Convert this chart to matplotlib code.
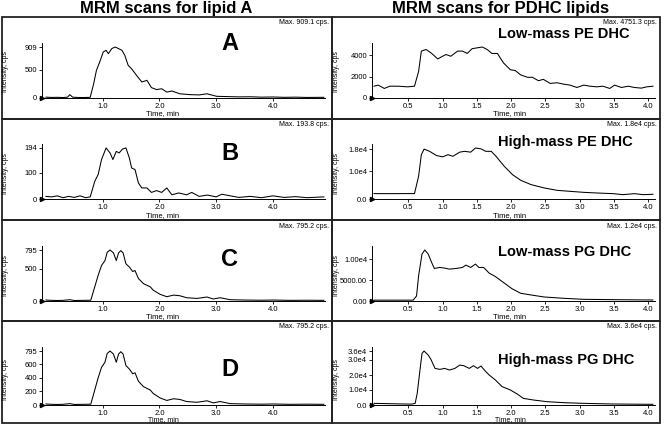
import matplotlib
matplotlib.use("Agg")
import matplotlib.pyplot as plt
from matplotlib.patches import Rectangle

plt.rcParams['font.family'] = ['Liberation Sans', 'DejaVu Sans']

# ---- data ----
# lipid A, panel A
tA = [0.0, 0.1, 0.2, 0.3, 0.38, 0.42, 0.47, 0.55, 0.65, 0.78, 0.84, 0.89, 0.95, 1.01, 1.06, 1.1,
      1.16, 1.22, 1.28, 1.34, 1.39, 1.45, 1.51, 1.6, 1.69, 1.78, 1.86, 1.95, 2.04, 2.13, 2.22,
      2.36, 2.54, 2.7, 2.84, 3.01, 3.2, 3.4, 3.6, 3.8, 4.0, 4.2, 4.4, 4.6, 4.9]
iA = [15, 10, 12, 8, 15, 60, 15, 10, 8, 12, 250, 493, 650, 820, 850, 790,
      880, 909, 880, 850, 760, 580, 520, 400, 285, 315, 185, 150, 165, 105, 125,
      75, 60, 55, 75, 30, 25, 20, 22, 15, 18, 12, 15, 10, 12]

# panel B
tB = [0.0, 0.1, 0.2, 0.3, 0.4, 0.5, 0.6, 0.7, 0.78, 0.86, 0.92, 0.98, 1.06, 1.13, 1.18, 1.24,
      1.29, 1.35, 1.41, 1.47, 1.51, 1.57, 1.63, 1.69, 1.78, 1.86, 1.95, 2.04, 2.13, 2.22, 2.34,
      2.48, 2.57, 2.7, 2.85, 3.0, 3.1, 3.25, 3.4, 3.6, 3.8, 4.0, 4.2, 4.4, 4.6, 4.9]
iB = [10, 8, 12, 5, 10, 6, 12, 5, 8, 67, 93, 150, 194, 175, 150, 181,
      175, 190, 194, 156, 118, 112, 61, 42, 42, 25, 32, 25, 42, 16, 23,
      16, 25, 10, 15, 8, 18, 12, 6, 10, 5, 12, 6, 9, 5, 8]

# panels C and D (same trace)
tC = [0.0, 0.1, 0.2, 0.3, 0.42, 0.5, 0.65, 0.79, 0.86, 0.92, 0.98, 1.04, 1.08, 1.13, 1.19, 1.24,
      1.28, 1.32, 1.36, 1.41, 1.47, 1.53, 1.57, 1.63, 1.72, 1.78, 1.84, 1.89, 2.01, 2.13, 2.25,
      2.36, 2.48, 2.66, 2.84, 2.95, 3.07, 3.25, 3.5, 3.8, 4.0, 4.3, 4.6, 4.9]
iC = [15, 10, 8, 10, 20, 8, 10, 12, 220, 400, 555, 630, 760, 795, 750, 630,
      750, 785, 750, 580, 530, 460, 475, 350, 270, 245, 220, 170, 105, 67, 92,
      82, 51, 40, 62, 31, 51, 20, 15, 12, 15, 10, 12, 10]

# low-mass PE DHC
tLPE = [0.0, 0.06, 0.15, 0.23, 0.35, 0.49, 0.59, 0.65, 0.69, 0.76, 0.83, 0.93, 1.0, 1.05, 1.12,
        1.22, 1.29, 1.36, 1.43, 1.51, 1.58, 1.65, 1.72, 1.8, 1.89, 1.99, 2.06, 2.14, 2.24, 2.31,
        2.4, 2.47, 2.57, 2.67, 2.76, 2.86, 2.96, 3.06, 3.15, 3.25, 3.34, 3.44, 3.51, 3.61, 3.71,
        3.8, 3.9, 3.98, 4.07]
iLPE = [1100, 1200, 890, 1100, 1100, 1040, 1100, 2470, 4370, 4520, 4210, 3640, 3890, 4050, 3890,
        4370, 4370, 4150, 4590, 4680, 4751, 4520, 4150, 4150, 3260, 2630, 2560, 2150, 1930, 1930,
        1610, 1740, 1360, 1420, 1300, 1200, 980, 1200, 1100, 1040, 1100, 890, 1200, 980, 1100,
        980, 920, 1040, 1100]

# high-mass PE DHC
tHPE = [0.0, 0.2, 0.4, 0.59, 0.65, 0.69, 0.73, 0.81, 0.91, 1.0, 1.08, 1.15, 1.25, 1.32, 1.41,
        1.48, 1.56, 1.63, 1.71, 1.78, 1.9, 2.02, 2.14, 2.29, 2.48, 2.67, 2.86, 3.06, 3.25, 3.49,
        3.63, 3.8, 3.93, 4.07]
iHPE = [1950, 1930, 1950, 1950, 8200, 16000, 18000, 17200, 15700, 15200, 16000, 15400, 16900, 17200, 16900,
        18400, 18100, 17200, 17200, 15400, 11800, 8800, 6750, 5200, 4000, 3130, 2770, 2400, 2170, 1930,
        1570, 1930, 1570, 1700]

# low-mass PG DHC
tLPG = [0.0, 0.2, 0.4, 0.57, 0.62, 0.65, 0.7, 0.74, 0.79, 0.84, 0.88, 0.96, 1.03, 1.1, 1.2,
        1.29, 1.34, 1.41, 1.48, 1.53, 1.6, 1.68, 1.77, 1.89, 2.01, 2.14, 2.29, 2.48, 2.77, 3.06,
        3.49, 4.07]
iLPG = [200, 200, 200, 200, 1200, 6000, 11200, 12160, 11200, 9200, 7760, 8000, 7840, 7600, 7760,
        8000, 8560, 8000, 8800, 8000, 8000, 6640, 5840, 4400, 2960, 1840, 1440, 960, 640, 400,
        320, 240]

# high-mass PG DHC
tHPG = [0.0, 0.2, 0.4, 0.55, 0.6, 0.63, 0.67, 0.7, 0.73, 0.79, 0.83, 0.89, 0.96, 1.03, 1.1,
        1.18, 1.25, 1.31, 1.39, 1.45, 1.51, 1.56, 1.61, 1.68, 1.77, 1.87, 1.99, 2.09, 2.18, 2.33,
        2.53, 2.77, 3.06, 3.49, 4.07]
iHPG = [1100, 900, 700, 600, 1100, 7800, 23300, 34400, 36000, 33300, 30400, 24400, 23750, 24400, 23300,
        24400, 26600, 26200, 24400, 26200, 24400, 26000, 23300, 20000, 16700, 12200, 10000, 7300, 4400, 3300,
        2200, 1550, 1100, 660, 450]

left_titles = ["A", "B", "C", "D"]
right_titles = ["Low-mass PE DHC", "High-mass PE DHC", "Low-mass PG DHC", "High-mass PG DHC"]
left_max = ["Max. 909.1 cps.", "Max. 193.8 cps.", "Max. 795.2 cps.", "Max. 795.2 cps."]
right_max = ["Max. 4751.3 cps.", "Max. 1.8e4 cps.", "Max. 1.2e4 cps.", "Max. 3.6e4 cps."]
left_data = [(tA, iA), (tB, iB), (tC, iC), (tC, iC)]
right_data = [(tLPE, iLPE), (tHPE, iHPE), (tLPG, iLPG), (tHPG, iHPG)]
left_yticks = [[0, 500, 909], [0, 100, 194], [0, 500, 795], [0, 200, 400, 600, 795]]
left_ylabels = [["0", "500", "909"], ["0", "100", "194"], ["0", "500", "795"],
                ["0", "200", "400", "600", "795"]]
right_yticks = [[0, 2000, 4000], [0, 10000, 18000], [0, 5000, 10000], [0, 10000, 20000, 30000, 36000]]
right_ylabels = [["0", "2000", "4000"], ["0.0", "1.0e4", "1.8e4"], ["0.00", "5000.00", "1.00e4"],
                 ["0.0", "1.0e4", "2.0e4", "3.0e4", "3.6e4"]]
left_ymax = [909.1, 193.8, 795.2, 795.2]
right_ymax = [4751.3, 18400, 12160, 36000]

W, H = 664, 426
fig = plt.figure(figsize=(W / 100, H / 100), dpi=100)


def fx(px):
    return px / W


def fy(py):
    return 1 - py / H


row_top = [17, 119, 220, 321]
row_bot = [119, 220, 321, 423]
axis_base = [98, 199, 301, 405]
time_y = [114, 216, 317, 420]
letter_y = [44, 153, 260, 370]
label_y = [34, 142, 252, 360]

fig.text(fx(166), fy(9), "MRM scans for lipid A", ha="center", va="center",
         fontsize=12, fontweight="bold")
fig.text(fx(501), fy(9), "MRM scans for PDHC lipids", ha="center", va="center",
         fontsize=12, fontweight="bold")

cols = [(2, 332, 42, 325, (-0.07, 4.92), [1, 2, 3, 4], ["1.0", "2.0", "3.0", "4.0"], 163, 6),
        (332, 660, 372, 655, (-0.03, 4.1), [0.5, 1, 1.5, 2, 2.5, 3, 3.5, 4],
         ["0.5", "1.0", "1.5", "2.0", "2.5", "3.0", "3.5", "4.0"], 510, 336)]

for c, (bx0, bx1, ax0, ax1, xl, xt, xtl, tx, ix) in enumerate(cols):
    for r in range(4):
        # panel frame
        fig.add_artist(Rectangle((fx(bx0), fy(row_bot[r])), fx(bx1 - bx0), (row_bot[r] - row_top[r]) / H,
                                 transform=fig.transFigure, fill=False, lw=1.3, ec="#222222"))
        hgt = 55 if r < 3 else 58
        ax = fig.add_axes([fx(ax0), fy(axis_base[r]), fx(ax1 - ax0), hgt / H])
        if c == 0:
            t, v = left_data[r]
            ym = left_ymax[r]
            yt, ytl = left_yticks[r], left_ylabels[r]
        else:
            t, v = right_data[r]
            ym = right_ymax[r]
            yt, ytl = right_yticks[r], right_ylabels[r]
        ax.plot(t, v, color="black", lw=0.75)
        ax.set_xlim(*xl)
        ax.set_ylim(0, ym * hgt / (51 if r < 3 else 54))
        ax.set_xticks(xt)
        ax.set_xticklabels(xtl)
        ax.set_yticks(yt)
        ax.set_yticklabels(ytl)
        ax.tick_params(labelsize=5.5, length=2, width=0.6, pad=1.5)
        ax.spines["top"].set_visible(False)
        ax.spines["right"].set_visible(False)
        for s in ["left", "bottom"]:
            ax.spines[s].set_linewidth(0.7)
        ax.patch.set_alpha(0)
        ax.plot([0], [0], marker=">", ms=3, color="black", transform=ax.transAxes, clip_on=False)

        fig.text(fx(ix), fy(axis_base[r] - 26), "Intensity, cps", rotation=90,
                 ha="center", va="center", fontsize=5)
        fig.text(fx(tx), fy(time_y[r]), "Time, min", ha="center", va="center",
                 fontsize=5.5 if r < 3 else 5)
        if c == 0:
            fig.text(fx(329), fy(row_top[r] + 6), left_max[r], ha="right", va="center", fontsize=5)
            fig.text(fx(230), fy(letter_y[r]), left_titles[r], ha="center", va="center",
                     fontsize=17, fontweight="bold")
        else:
            fig.text(fx(657), fy(row_top[r] + 6), right_max[r], ha="right", va="center", fontsize=5)
            fig.text(fx(498), fy(label_y[r]), right_titles[r], ha="left", va="center",
                     fontsize=10.5, fontweight="bold")

fig.savefig("out.png", dpi=100)
